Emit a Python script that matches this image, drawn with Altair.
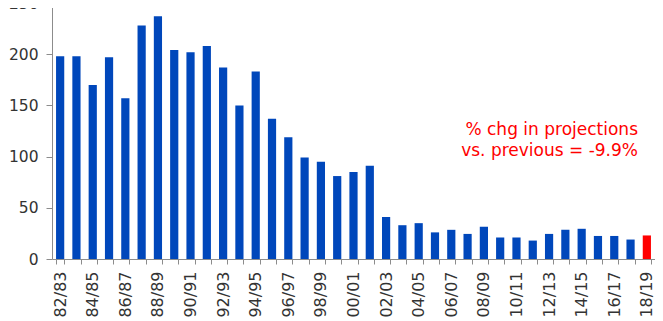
import altair as alt
import pandas as pd

seasons = ["82/83", "83/84", "84/85", "85/86", "86/87", "87/88", "88/89", "89/90",
           "90/91", "91/92", "92/93", "93/94", "94/95", "95/96", "96/97", "97/98",
           "98/99", "99/00", "00/01", "01/02", "02/03", "03/04", "04/05", "05/06",
           "06/07", "07/08", "08/09", "09/10", "10/11", "11/12", "12/13", "13/14",
           "14/15", "15/16", "16/17", "17/18", "18/19"]
values = [198, 198, 170, 197, 157, 228, 237, 204, 202, 208, 187, 150, 183, 137,
          119, 99, 95, 81, 85, 91, 41, 33, 35, 26, 28.5, 24.5, 31.5, 21, 21, 18,
          24.5, 28.5, 29.5, 22.5, 22.5, 19, 23]
kind = ["actual"] * 36 + ["projection"]
shown_labels = seasons[::2]
note_lines = ["% chg in projections", "vs. previous = -9.9%"]

df = pd.DataFrame({"season": seasons, "value": values, "kind": kind})

FONT = "DejaVu Sans"
label_list = "[" + ",".join("'" + s + "'" for s in shown_labels) + "]"

bars = alt.Chart(df).mark_bar(size=8.2).encode(
    x=alt.X("season:N", sort=seasons, title=None,
            scale=alt.Scale(paddingInner=0.5, paddingOuter=0.25),
            axis=alt.Axis(labelAngle=270, tickBand="extent", tickSize=5,
                          labelPadding=7, labelFontSize=16, labelFont=FONT,
                          labelColor="#333333", domainColor="#8c8c8c",
                          tickColor="#8c8c8c",
                          labelExpr="indexof(" + label_list + ", datum.value) >= 0 ? datum.label : ''")),
    y=alt.Y("value:Q", title=None,
            scale=alt.Scale(domain=[0, 250]),
            axis=alt.Axis(values=[0, 50, 100, 150, 200, 250], grid=False,
                          tickSize=6, labelPadding=8, labelFontSize=15.5,
                          labelFont=FONT, labelColor="#333333",
                          domainColor="#8c8c8c", tickColor="#8c8c8c")),
    color=alt.Color("kind:N", legend=None,
                    scale=alt.Scale(domain=["actual", "projection"],
                                    range=["#0047BB", "#FF0000"])),
)

note = alt.Chart(pd.DataFrame({"t": [note_lines]})).mark_text(
    align="right", baseline="alphabetic", fontSize=17, font=FONT,
    color="#FF0000", lineHeight=21
).encode(x=alt.value(586), y=alt.value(132), text="t")

chart = alt.layer(bars, note).properties(
    width=603, height=256,
    autosize=alt.AutoSizeParams(type="none"),
    padding={"left": 44, "top": -5, "right": 0, "bottom": 62},
).configure_view(stroke=None)

chart.save("out.html", embed_options={"renderer": "svg", "actions": False})
